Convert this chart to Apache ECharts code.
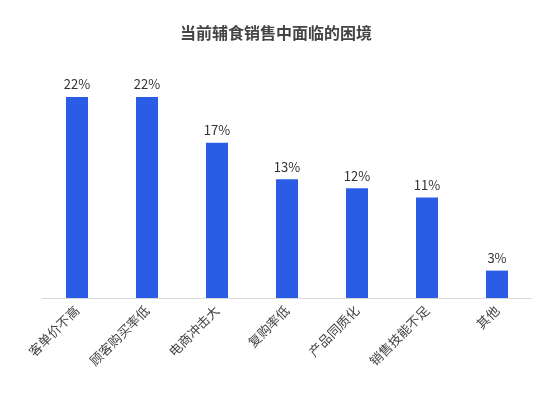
<!DOCTYPE html>
<html><head><meta charset="utf-8">
<script src="https://cdn.jsdelivr.net/npm/echarts@6/dist/echarts.min.js"></script>
<style>html,body{margin:0;padding:0;background:#fff}#c{width:552px;height:403px}</style>
</head><body><div id="c"></div>
<script>
var categories = ['客单价不高','顾客购买率低','电商冲击大','复购率低','产品同质化','销售技能不足','其他'];
var values = [22, 22, 17, 13, 12, 11, 3];

var chart = echarts.init(document.getElementById('c'));
chart.setOption({
    animation: false,
    title: {
        text: '当前辅食销售中面临的困境',
        left: 'center',
        top: 20,
        textStyle: {fontFamily: 'Noto Sans CJK SC', fontSize: 16, fontWeight: 'bold', color: '#444'}
    },
    grid: {left: 42, right: 20, top: 97, bottom: 105},
    xAxis: {
        type: 'category',
        data: categories,
        axisTick: {show: false},
        axisLine: {lineStyle: {color: '#d9d9d9'}},
        axisLabel: {rotate: 45, interval: 0, margin: 10, color: '#444', fontSize: 13, fontFamily: 'Noto Sans CJK SC'}
    },
    yAxis: {type: 'value', min: 0, max: 22, show: false, splitLine: {show: false}},
    series: [{
        type: 'bar',
        data: values,
        barWidth: 22,
        itemStyle: {color: '#2b5ce6'},
        label: {show: true, position: 'top', formatter: '{c}%', color: '#333', fontSize: 13, fontFamily: 'Noto Sans CJK SC', distance: 6}
    }]
});
</script></body></html>
